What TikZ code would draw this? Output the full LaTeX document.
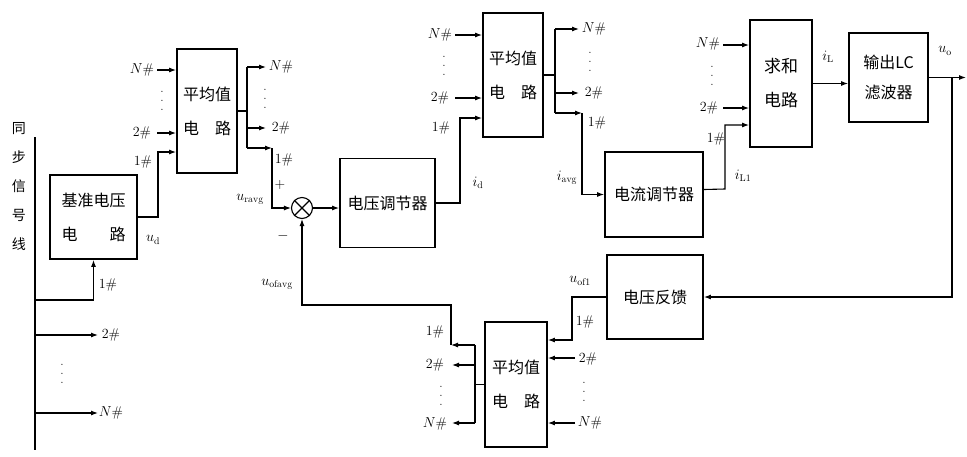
\documentclass[tikz,border=0pt]{standalone}
\usepackage{fontspec}
\newfontfamily\cjk{Noto Sans CJK SC}
\usetikzlibrary{arrows.meta,calc}
\begin{document}
\begin{tikzpicture}[x=1pt,y=-1pt,
  blk/.style={draw,line width=1.8pt,inner sep=0pt,align=center,font=\cjk\fontsize{16}{34}\selectfont},
  wire/.style={line width=1.1pt},
  arr/.style={wire,-{Latex[length=7pt,width=5pt]}},
  lab/.style={inner sep=0pt,font=\fontsize{14}{15}\selectfont},
  dotsx/.style={inner sep=0pt,rotate=90,font=\fontsize{12}{12}\selectfont},
  sumjct/.style={draw,circle,minimum size=21pt,inner sep=0pt,line width=1.1pt}
]
\useasboundingbox (0,0) rectangle (967,456);

% blocks
\node[blk,minimum width=87pt,minimum height=84pt] (base) at (93.5,217) {基准电压\\电\hspace{2em}路};
\node[blk,minimum width=60pt,minimum height=124pt] (avg1) at (207,111) {平均值\\电\hspace{1em}路};
\node[blk,minimum width=95pt,minimum height=89pt] (vreg) at (387.5,203) {电压调节器};
\node[blk,minimum width=60pt,minimum height=124pt] (avg2) at (513,75) {平均值\\电\hspace{1em}路};
\node[blk,minimum width=98pt,minimum height=85pt] (creg) at (654,194.5) {电流调节器};
\node[blk,minimum width=62pt,minimum height=127pt,font=\cjk\fontsize{17}{34}\selectfont] (sumc) at (781,83.5) {求和\\电路};
\node[blk,minimum width=79pt,minimum height=89pt,font=\cjk\fontsize{16}{30}\selectfont] (lc) at (888.5,77.5) {输出LC\\滤波器};
\node[blk,minimum width=96pt,minimum height=84pt] (vfb) at (655,297) {电压反馈};
\node[blk,minimum width=62pt,minimum height=125pt] (avg3) at (516,384.5) {平均值\\电\hspace{1em}路};
\node[sumjct] (circ) at (302,208) {};
\draw[wire] (circ.north west) -- (circ.south east) (circ.north east) -- (circ.south west);

% sync line
\node[inner sep=0pt,align=center,font=\cjk\fontsize{14}{29}\selectfont] (synclab) at (19,187) {同\\步\\信\\号\\线};
\coordinate (s0) at (35,137);
\coordinate (s1) at (35,450);
\draw[wire] (s0) -- (s1);
\coordinate (sb1) at (35,300);
\coordinate (sb2) at (35,335);
\coordinate (sb2e) at (98,335);
\coordinate (sbn) at (35,413);
\coordinate (sbne) at (98,413);
\draw[arr] (sb1) -| (base.south);
\draw[arr] (sb2) -- (sb2e);
\draw[arr] (sbn) -- (sbne);
\node[lab] (l1a) at (108,285) {1\#};
\node[lab] (l2a) at (111,335) {2\#};
\node[dotsx] (da) at (62,374) {.\hspace{6pt}.\hspace{6pt}.};
\node[lab] (lna) at (111,413) {$N$\#};

% base -> avg1
\coordinate (bt) at (158,217);
\draw[arr] (base.east) -- (bt) |- ($(avg1.west)+(0,41)$);
\node[lab] (ud) at (153,240) {$u_{\rm d}$};
\coordinate (a1n) at (157,70);
\coordinate (a1two) at (157,133);
\draw[arr] (a1n) -- (a1n -| avg1.west);
\draw[arr] (a1two) -- (a1two -| avg1.west);
\node[lab] (l1n) at (142,70) {$N$\#};
\node[dotsx] (d1) at (162,101) {.\hspace{6pt}.\hspace{6pt}.};
\node[lab] (l12) at (142,133) {2\#};
\node[lab] (l11) at (143,162) {1\#};

% avg1 outputs
\coordinate (o1) at (247,111);
\coordinate (o1t) at (247,67);
\coordinate (o1b) at (247,148);
\coordinate (o1ne) at (266,67);
\coordinate (o1two) at (247,128);
\coordinate (o1twoe) at (266,128);
\coordinate (o1c) at (272,148);
\draw[wire] (avg1.east) -- (o1);
\draw[wire] (o1t) -- (o1b);
\draw[arr] (o1t) -- (o1ne);
\draw[arr] (o1two) -- (o1twoe);
\draw[arr] (o1b) -- (o1c);
\draw[arr] (o1c) |- (circ.west);
\node[lab] (m1n) at (281,67) {$N$\#};
\node[dotsx] (md1) at (265,99) {.\hspace{6pt}.\hspace{6pt}.};
\node[lab] (m12) at (281,128) {2\#};
\node[lab] (m11) at (284,160) {1\#};
\node[lab] (plus) at (280,185) {+};
\node[lab] (minus) at (283,236) {$-$};
\node[lab] (uravg) at (250,199) {$u_{\rm ravg}$};
\node[lab] (uofavg) at (277,284) {$u_{\rm ofavg}$};

% circle -> vreg -> avg2
\draw[arr] (circ.east) -- (circ.east -| vreg.west);
\coordinate (vt) at (460,203);
\draw[arr] (vreg.east) -- (vt) |- ($(avg2.west)+(0,43)$);
\node[lab] (id) at (478,183) {$i_{\rm d}$};
\coordinate (a2n) at (455,35);
\coordinate (a2two) at (455,98);
\draw[arr] (a2n) -- (a2n -| avg2.west);
\draw[arr] (a2two) -- (a2two -| avg2.west);
\node[lab] (l2n) at (440,35) {$N$\#};
\node[dotsx] (d2) at (444,66) {.\hspace{6pt}.\hspace{6pt}.};
\node[lab] (l22) at (440,98) {2\#};
\node[lab] (l21) at (441,128) {1\#};

% avg2 outputs
\coordinate (o2) at (555,75);
\coordinate (o2t) at (555,29);
\coordinate (o2b) at (555,113);
\coordinate (o2ne) at (579,29);
\coordinate (o2two) at (555,93);
\coordinate (o2twoe) at (579,93);
\coordinate (o2c) at (582,113);
\draw[wire] (avg2.east) -- (o2);
\draw[wire] (o2t) -- (o2b);
\draw[arr] (o2t) -- (o2ne);
\draw[arr] (o2two) -- (o2twoe);
\draw[arr] (o2b) -- (o2c);
\draw[arr] (o2c) |- (creg.west);
\node[lab] (m2n) at (594,29) {$N$\#};
\node[dotsx] (md2) at (590,62) {.\hspace{6pt}.\hspace{6pt}.};
\node[lab] (m22) at (594,93) {2\#};
\node[lab] (m21) at (597,123) {1\#};
\node[lab] (iavg) at (567,178) {$i_{\rm avg}$};

% creg -> sum
\coordinate (ct) at (725,189);
\draw[arr] ($(creg.east)+(0,-5)$) -- (ct) |- ($(sumc.west)+(0,41.5)$);
\coordinate (s3n) at (723,45);
\coordinate (s3two) at (723,108);
\draw[arr] (s3n) -- (s3n -| sumc.west);
\draw[arr] (s3two) -- (s3two -| sumc.west);
\node[lab] (l3n) at (708,44) {$N$\#};
\node[dotsx] (d3) at (712,76) {.\hspace{6pt}.\hspace{6pt}.};
\node[lab] (l32) at (709,108) {2\#};
\node[lab] (l31) at (716,139) {1\#};
\node[lab] (il1) at (743,176) {$i_{\rm L1}$};

% sum -> lc -> out
\draw[arr] (sumc.east) -- (sumc.east -| lc.west);
\node[lab] (il) at (828,57) {$i_{\rm L}$};
\coordinate (uo) at (966,77.5);
\coordinate (tap) at (952,77.5);
\draw[arr] (lc.east) -- (uo);
\node[lab] (uol) at (945,51) {$u_{\rm o}$};
\draw[arr] (tap) |- (vfb.east);

% vfb -> avg3
\coordinate (ft) at (572,297);
\draw[arr] (vfb.west) -- (ft) |- ($(avg3.east)+(0,-44.5)$);
\node[lab] (uof1) at (580,281) {$u_{\rm of1}$};
\coordinate (a3two) at (575,358);
\coordinate (a3n) at (575,423);
\draw[arr] (a3two) -- (a3two -| avg3.east);
\draw[arr] (a3n) -- (a3n -| avg3.east);
\node[lab] (r31) at (585,322) {1\#};
\node[lab] (r32) at (588,359) {2\#};
\node[dotsx] (rd3) at (584,392) {.\hspace{6pt}.\hspace{6pt}.};
\node[lab] (r3n) at (590,423) {$N$\#};

% avg3 outputs
\coordinate (o3) at (475,384.5);
\coordinate (o3t) at (475,345);
\coordinate (o3b) at (475,423);
\coordinate (o3two) at (475,365);
\coordinate (o3c) at (451,345);
\coordinate (o3twoe) at (452,365);
\coordinate (o3ne) at (452,423);
\draw[wire] (avg3.west) -- (o3);
\draw[wire] (o3t) -- (o3b);
\draw[arr] (o3t) -- (o3c);
\draw[arr] (o3two) -- (o3twoe);
\draw[arr] (o3b) -- (o3ne);
\node[lab] (q31) at (435,332) {1\#};
\node[lab] (q32) at (435,365) {2\#};
\node[dotsx] (qd3) at (441,396) {.\hspace{6pt}.\hspace{6pt}.};
\node[lab] (q3n) at (435,424) {$N$\#};
\coordinate (fbup) at (451,305);
\draw[arr] (o3c) -- (fbup) -| (circ.south);
\end{tikzpicture}
\end{document}
